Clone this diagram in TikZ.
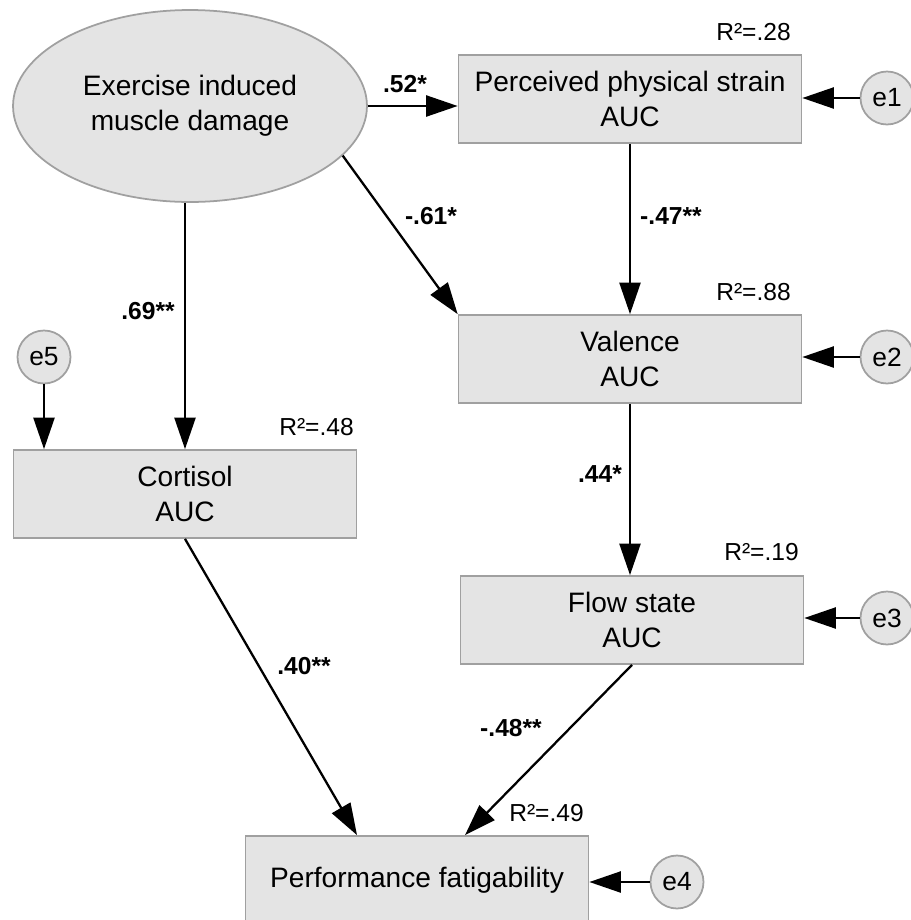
\documentclass[tikz,border=0pt]{standalone}
\usepackage{fontspec}
\setmainfont{Liberation Sans}
\definecolor{boxgray}{RGB}{228, 228, 228}
\definecolor{edgegray}{RGB}{160, 160, 160}
\usepackage{tikz}
\usetikzlibrary{shapes.geometric, arrows.meta, positioning}

\begin{document}
\begin{tikzpicture}[x=0.02cm, y=-0.02cm,
    varbox/.style={draw=edgegray, line width=1pt, fill=boxgray, minimum width=6.86cm,
                   minimum height=1.76cm, align=center, inner sep=0pt,
                   font=\fontsize{16}{20}\selectfont},
    latent/.style={ellipse, draw=edgegray, line width=1pt, fill=boxgray, minimum width=7.08cm,
                   minimum height=3.84cm, align=center, font=\fontsize{16}{20}\selectfont},
    errnode/.style={circle, draw=edgegray, line width=1pt, fill=boxgray, minimum size=1.06cm,
                    inner sep=0pt, font=\fontsize{15}{18}\selectfont},
    effect/.style={-{Triangle[length=18pt, width=12pt]}, line width=1.3pt},
    coef/.style={font=\bfseries\fontsize{14}{16}\selectfont},
    rsq/.style={anchor=east, font=\fontsize{14}{16}\selectfont}]
                    \useasboundingbox (0, 0) rectangle (911, 920);
                    % variables
                    \node[latent] (emd) at (190, 106) {Exercise induced\\muscle damage};
                    \node[varbox] (pps) at (630, 99) {Perceived physical strain\\AUC};
                    \node[varbox] (val) at (630, 359) {Valence\\AUC};
                    \node[varbox] (cort) at (185, 494) {Cortisol\\AUC};
                    \node[varbox] (flow) at (632, 620) {Flow state\\AUC};
                    \node[varbox] (perf) at (417, 880) {Performance fatigability};
                    % error terms
                    \node[errnode] (e1) at (887, 98) {e1};
                    \node[errnode] (e2) at (887, 357) {e2};
                    \node[errnode] (e3) at (887, 618) {e3};
                    \node[errnode] (e4) at (677, 882) {e4};
                    \node[errnode] (e5) at (44, 357) {e5};
                    % R squared
                    \node[rsq] (r1) at (797, 32) {R²=.28};
                    \node[rsq] (r2) at (797, 292) {R²=.88};
                    \node[rsq] (r5) at (360, 427) {R²=.48};
                    \node[rsq] (r3) at (805, 552) {R²=.19};
                    \node[rsq] (r4) at (590, 813) {R²=.49};
                    % paths
                    \draw[effect] (emd.east) -- (emd.east -| pps.west);
                    \draw[effect] (emd.-18) -- (val.north west);
                    \draw[effect] (cort.north |- emd.south) -- (cort.north);
                    \draw[effect] (pps.south) -- (val.north);
                    \draw[effect] (val.south) -- (val.south |- flow.north);
                    \draw[effect] (cort.south) -- ([xshift=-1.2cm]perf.north);
                    \draw[effect] (flow.south) -- ([xshift=0.96cm]perf.north);
                    \draw[effect] (e1) -- (pps.east |- e1);
                    \draw[effect] (e2) -- (val.east |- e2);
                    \draw[effect] (e3) -- (flow.east |- e3);
                    \draw[effect] (e4) -- (perf.east |- e4);
                    \draw[effect] (e5) -- (e5 |- cort.north);
                    % coefficients
                    \node[coef] (c1) at (405, 84) {.52*};
                    \node[coef] (c2) at (431, 216) {-.61*};
                    \node[coef] (c3) at (671, 216) {-.47**};
                    \node[coef] (c4) at (148, 311) {.69**};
                    \node[coef] (c5) at (600, 474) {.44*};
                    \node[coef] (c6) at (304, 666) {.40**};
                    \node[coef] (c7) at (511, 728) {-.48**};
                \end{tikzpicture}
\end{document}
